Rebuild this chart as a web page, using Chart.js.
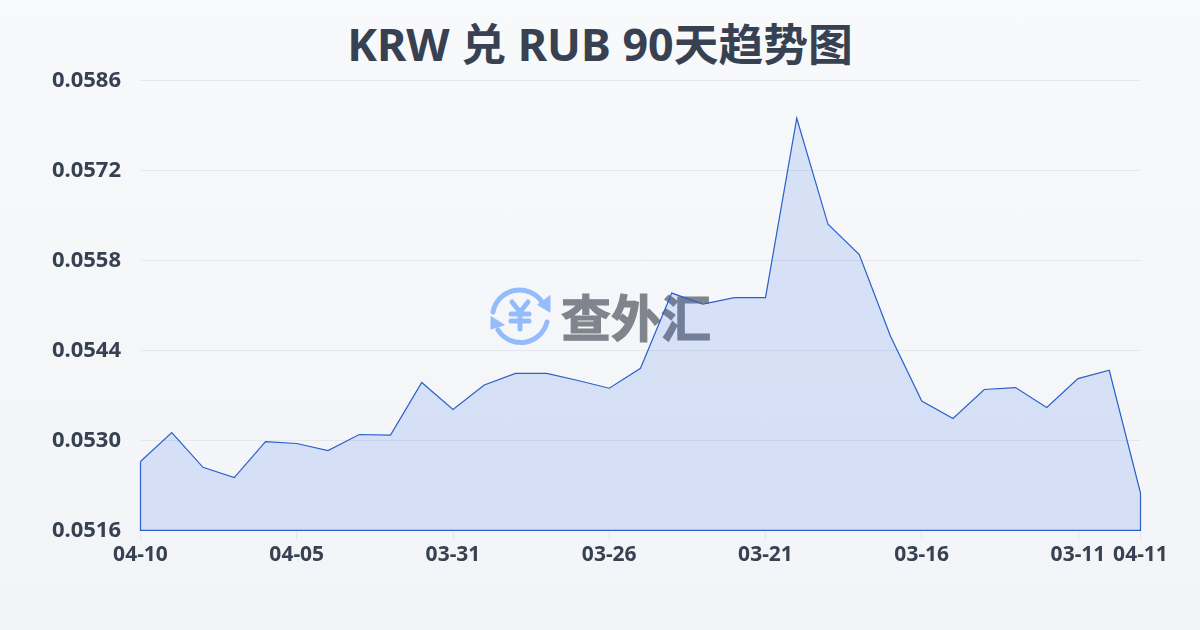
<!DOCTYPE html>
<html lang="zh">
<head>
<meta charset="utf-8">
<title>KRW 兑 RUB 90天趋势图</title>
<script src="https://cdn.jsdelivr.net/npm/chart.js@4"></script>
<style>
html, body { margin: 0; padding: 0; }
body { width: 1200px; height: 630px; overflow: hidden; position: relative; background: linear-gradient(180deg, #f8f9fb, #f3f4f7); }
#title { position: absolute; left: 0; top: 13px; width: 1200px; margin: 0; text-align: center; font: 700 44.8px/62px "Noto Sans", "Noto Sans CJK SC", sans-serif; color: #374151; }
#watermark { position: absolute; left: 489px; top: 284px; display: flex; align-items: center; }
#watermark span { font: 700 50px "Noto Sans CJK SC", sans-serif; -webkit-text-stroke: 1.2px #80848c; color: #80848c; margin-left: 10px; line-height: 60px; }
canvas { position: absolute; left: 0; top: 0; }
</style>
</head>
<body>
<h1 id="title">KRW 兑 RUB 90天趋势图</h1>
<div id="watermark">
  <svg width="62" height="62" viewBox="0 0 62 62" fill="none" stroke="#94bbfa" stroke-width="5" stroke-linecap="round" stroke-linejoin="round">
    <path d="M4 28 A27 27 0 0 1 53 18"/>
    <path d="M58 38 A27 27 0 0 1 9 46"/>
    <path d="M61 12 L61 28 L49 21 Z" fill="#94bbfa" stroke-width="1"/>
    <path d="M2 33 L2 45 L15 41 Z" fill="#94bbfa" stroke-width="1"/>
    <path d="M23 18 L31 28 L39 18 M31 28 V45 M22 30 H40 M22 37 H40"/>
  </svg>
  <span>查外汇</span>
</div>
<canvas id="chart" width="1200" height="630"></canvas>
<script>
const dates = ['04-10','04-09','04-08','04-07','04-06','04-05','04-04','04-03','04-02','04-01','03-31',
  '03-30','03-29','03-28','03-27','03-26','03-25','03-24','03-23','03-22','03-21',
  '03-20','03-19','03-18','03-17','03-16','03-15','03-14','03-13','03-12','03-11','03-10','04-11'];
const rates = [0.05267,0.05312,0.05258,0.05242,0.05298,0.05295,0.05284,0.05309,0.05308,0.05390,0.05348,
  0.05386,0.05404,0.05404,0.05393,0.05381,0.05412,0.05529,0.05512,0.05522,0.05522,
  0.05801,0.05636,0.05589,0.05462,0.05361,0.05334,0.05379,0.05382,0.05351,0.05396,0.05409,0.05218];
const shownDates = [0, 5, 10, 15, 20, 25, 30, 32];
const yTicks = [0.0516, 0.0530, 0.0544, 0.0558, 0.0572, 0.0586];

const lineColor = '#2a60c8';
const textColor = '#374151';
const gridColor = '#e4e7ec';
const fontFamily = '"Noto Sans", "Noto Sans CJK SC", sans-serif';

// the reference closes the area with an outline down both sides and along the bottom
const closeOutline = {
  id: 'closeOutline',
  afterDatasetsDraw(chart) {
    const pts = chart.getDatasetMeta(0).data;
    const bottom = chart.scales.y.getPixelForValue(yTicks[0]);
    const ctx = chart.ctx;
    ctx.save();
    ctx.strokeStyle = lineColor;
    ctx.lineWidth = 1.2;
    ctx.beginPath();
    ctx.moveTo(pts[0].x, pts[0].y);
    ctx.lineTo(pts[0].x, bottom);
    ctx.lineTo(pts[pts.length - 1].x, bottom);
    ctx.lineTo(pts[pts.length - 1].x, pts[pts.length - 1].y);
    ctx.stroke();
    ctx.restore();
  }
};

new Chart(document.getElementById('chart'), {
  type: 'line',
  data: {
    labels: dates,
    datasets: [{
      data: rates,
      borderColor: lineColor,
      borderWidth: 1.2,
      backgroundColor: 'rgba(40, 100, 225, 0.15)',
      fill: 'start',
      tension: 0,
      pointRadius: 0,
      clip: false
    }]
  },
  plugins: [closeOutline],
  options: {
    responsive: false,
    animation: false,
    layout: { padding: { top: 80.3, right: 59.5 } },
    plugins: {
      legend: { display: false },
      tooltip: { enabled: false }
    },
    scales: {
      x: {
        type: 'category',
        afterBuildTicks(scale) {
          scale.ticks = shownDates.map(i => ({ value: i }));
        },
        afterFit(scale) { scale.height = 99.7; },
        border: { display: false },
        grid: { drawOnChartArea: false, color: gridColor, tickLength: 10 },
        ticks: {
          autoSkip: false,
          maxRotation: 0,
          padding: 2,
          color: textColor,
          font: { family: fontFamily, size: 21, weight: '700' }
        }
      },
      y: {
        min: yTicks[0],
        max: yTicks[yTicks.length - 1],
        afterBuildTicks(scale) {
          scale.ticks = yTicks.map(v => ({ value: v }));
        },
        afterFit(scale) { scale.width = 140.5; },
        border: { display: false },
        grid: { color: gridColor, drawTicks: false },
        ticks: {
          padding: 19.5,
          color: textColor,
          font: { family: fontFamily, size: 22, weight: '700' },
          callback: v => v.toFixed(4)
        }
      }
    }
  }
});
</script>
</body>
</html>
